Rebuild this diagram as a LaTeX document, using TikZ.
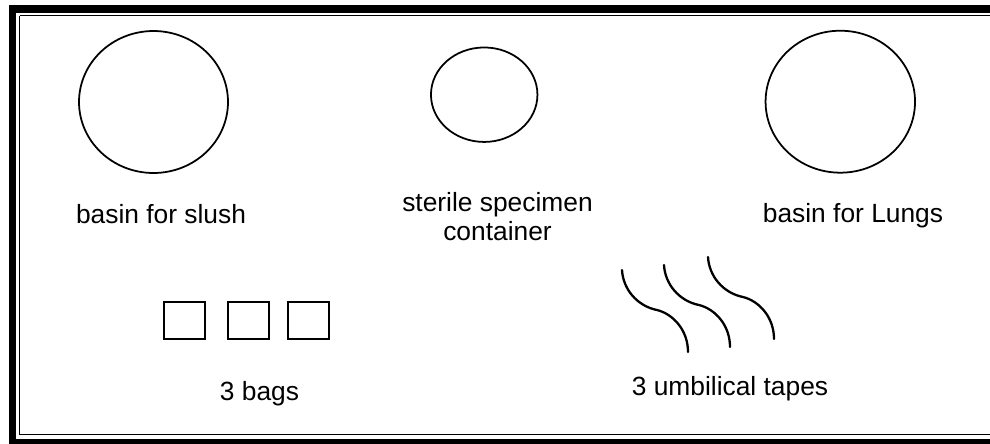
\documentclass[tikz,border=0pt]{standalone}
\usepackage{fontspec}
\setmainfont{Liberation Sans}
\usetikzlibrary{shapes.geometric}

\tikzset{
  basin/.style={ellipse, draw, line width=1pt, inner sep=0pt},
  bagbox/.style={rectangle, draw, line width=1.1pt, inner sep=0pt,
                 minimum width=0.82cm, minimum height=0.74cm},
  caption/.style={anchor=base, inner sep=0pt, align=center,
                  font=\fontsize{15}{16.4}\selectfont},
  tape/.style={line width=1.3pt, line cap=round},
}

\begin{document}
\begin{tikzpicture}[x=0.02cm, y=-0.02cm]
  \useasboundingbox (0,0) rectangle (990,443);

  % double frame: heavy outer band and a thin inner rule
  \fill[black] (9,5) rectangle (1000,450);
  \fill[white] (15.7,12.5) rectangle (1000,438.7);
  \draw[line width=0.9pt] (19.5,15.5) -- (1000,15.5);
  \draw[line width=0.9pt] (19.5,15.5) -- (19.5,434.6) -- (1000,434.6);

  % basins and specimen container
  \node[basin, minimum width=2.98cm, minimum height=2.84cm] (slush) at (153.5,102) {};
  \node[basin, minimum width=2.13cm, minimum height=1.89cm] (specimen) at (484.2,94.7) {};
  \node[basin, minimum width=2.99cm, minimum height=2.84cm] (lungs) at (840.3,101.7) {};

  \node[caption] (slushlbl) at (161,223) {basin for slush};
  % the base anchor of a two-line caption sits on its last line
  \node[caption] (speclbl) at (497.5,240) {sterile specimen\\container};
  \node[caption] (lungslbl) at (853,222) {basin for Lungs};

  % bags
  \node[bagbox] (bag1) at (184.5,320.7) {};
  \node[bagbox] (bag2) at (248.7,320.7) {};
  \node[bagbox] (bag3) at (308.7,320.7) {};
  \node[caption] (bagslbl) at (259.5,400) {3 bags};

  % umbilical tapes
  \foreach \dx/\dy in {0/0, 42/-5, 86/-13} {
    \draw[tape, shift={(\dx,\dy)}]
      (622,270) .. controls (623,289) and (637,306) .. (657,310)
                .. controls (673,314) and (688,330) .. (688,352);
  }
  \node[caption] (tapeslbl) at (730,395) {3 umbilical tapes};
\end{tikzpicture}
\end{document}
